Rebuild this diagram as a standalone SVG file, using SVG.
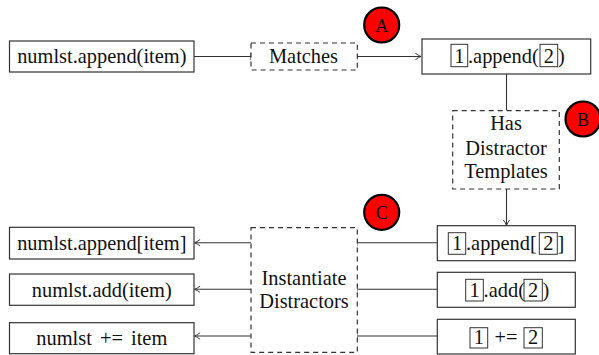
<svg xmlns="http://www.w3.org/2000/svg" width="599" height="355" viewBox="0 0 599 355">
<style>
.box{fill:#fff;stroke:#333;stroke-width:1.2}
.dbox{fill:#fff;stroke:#333;stroke-width:1.2;stroke-dasharray:5,4}
.sbox{fill:none;stroke:#333;stroke-width:1}
.t{font-family:"Liberation Serif","Times New Roman",serif;font-size:20.4px;fill:#111}
.c{text-anchor:middle}
.ln{fill:none;stroke:#333;stroke-width:1.1}
.circ{fill:#f00;stroke:#000;stroke-width:2.2}
.cl{font-family:"Liberation Serif","Times New Roman",serif;font-size:18px;fill:#000;text-anchor:middle}
</style>
<defs>
<marker id="arr" viewBox="0 0 10 10" refX="9" refY="5" markerWidth="8" markerHeight="8" markerUnits="userSpaceOnUse" orient="auto">
<path d="M2,1 Q6,4 9,5 Q6,6 2,9" fill="none" stroke="#333" stroke-width="1.2"/>
</marker>
</defs>
<g id="connectors">
<path class="ln" d="M194,56.5 H251 M251,53 V60"/>
<path class="ln" d="M357,56.5 H421" marker-end="url(#arr)"/>
<path class="ln" d="M357,53 V60"/>
<path class="ln" d="M506.5,74 V110.7"/>
<path class="ln" d="M506.5,189 V225.5" marker-end="url(#arr)"/>
<path class="ln" d="M437,242.7 H357 M357,239.2 V246.2"/>
<path class="ln" d="M437,289.3 H357 M357,285.8 V292.8"/>
<path class="ln" d="M437,336 H357 M357,332.5 V339.5"/>
<path class="ln" d="M251,242.7 H194.5" marker-end="url(#arr)"/>
<path class="ln" d="M251,289.3 H194.5" marker-end="url(#arr)"/>
<path class="ln" d="M251,336 H194.5" marker-end="url(#arr)"/>
</g>
<g id="src">
<rect class="box" x="9.5" y="41" width="184.5" height="31"/>
<text class="t c" x="101.8" y="63">numlst.append(item)</text>
</g>
<g id="matches">
<rect class="dbox" x="251" y="43" width="106.3" height="27"/>
<text class="t c" x="303.5" y="63">Matches</text>
</g>
<g id="template">
<rect class="box" x="422" y="39" width="168.7" height="35"/>
<rect class="sbox" x="451" y="44.3" width="16.7" height="22.4"/>
<text class="t c" x="459.4" y="63">1</text>
<text class="t" x="468" y="63">.append(</text>
<rect class="sbox" x="540" y="44.3" width="17.7" height="22.4"/>
<text class="t c" x="548.9" y="63">2</text>
<text class="t" x="558" y="63">)</text>
</g>
<g id="has">
<rect class="dbox" x="452.7" y="110.7" width="106.6" height="78.3"/>
<text class="t c" x="506" y="130">Has</text>
<text class="t c" x="506" y="154.5">Distractor</text>
<text class="t c" x="506" y="178">Templates</text>
</g>
<g id="instantiate">
<rect class="dbox" x="251" y="227.7" width="106.3" height="124.6"/>
<text class="t c" x="304" y="284.5">Instantiate</text>
<text class="t c" x="304" y="308">Distractors</text>
</g>
<g id="t1">
<rect class="box" x="437.3" y="225.7" width="138" height="35"/>
<rect class="sbox" x="448.3" y="232.7" width="17.4" height="21.6"/>
<text class="t c" x="457" y="250">1</text>
<text class="t" x="466" y="250">.append[</text>
<rect class="sbox" x="539.3" y="232.7" width="18" height="21.6"/>
<text class="t c" x="548.3" y="250">2</text>
<text class="t" x="557.5" y="250">]</text>
</g>
<g id="t2">
<rect class="box" x="437.3" y="272.3" width="138" height="35"/>
<rect class="sbox" x="465.7" y="279.3" width="17.6" height="21.7"/>
<text class="t c" x="474.5" y="297">1</text>
<text class="t" x="483.6" y="297">.add(</text>
<rect class="sbox" x="524" y="279.3" width="18.3" height="21.7"/>
<text class="t c" x="533.1" y="297">2</text>
<text class="t" x="542.5" y="297">)</text>
</g>
<g id="t3">
<rect class="box" x="437.3" y="319.3" width="138" height="34.7"/>
<rect class="sbox" x="470" y="327.7" width="17.7" height="20.3"/>
<text class="t c" x="478.8" y="344">1</text>
<text class="t c" x="506" y="344">+=</text>
<rect class="sbox" x="524" y="327.7" width="18.3" height="20.3"/>
<text class="t c" x="533.1" y="344">2</text>
</g>
<g id="d1">
<rect class="box" x="9.5" y="227.3" width="184.5" height="31.7"/>
<text class="t c" x="101.8" y="250">numlst.append[item]</text>
</g>
<g id="d2">
<rect class="box" x="9.5" y="274" width="184.5" height="31.3"/>
<text class="t c" x="101.8" y="296.5">numlst.add(item)</text>
</g>
<g id="d3">
<rect class="box" x="9.5" y="322.7" width="184.5" height="31"/>
<text class="t c" x="101.8" y="345" word-spacing="3">numlst += item</text>
</g>
<g id="A">
<circle class="circ" cx="381.7" cy="25" r="17.5"/>
<text class="cl" x="381.7" y="31.5">A</text>
</g>
<g id="B">
<circle class="circ" cx="583" cy="119" r="17.5"/>
<text class="cl" x="583" y="125.5">B</text>
</g>
<g id="C">
<circle class="circ" cx="381.7" cy="212.3" r="17.5"/>
<text class="cl" x="381.7" y="218.8">C</text>
</g>
</svg>
